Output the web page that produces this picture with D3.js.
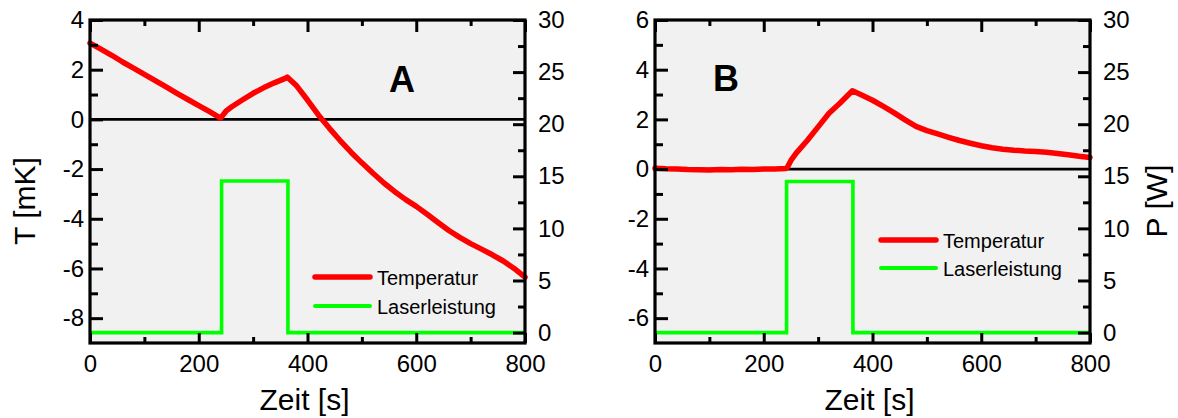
<!DOCTYPE html>
<html>
<head>
<meta charset="utf-8">
<script src="https://cdn.jsdelivr.net/npm/d3@7"></script>
<style>
  body { margin: 0; background: #fff; }
  svg { display: block; }
  text { font-family: "Liberation Sans", Arial, Helvetica, sans-serif; fill: #000; }
</style>
</head>
<body>
<svg id="chart" width="1178" height="418"></svg>
<script>
// Measurement A: temperature [mK] over time [s]
const timeA = [0, 20, 40, 60, 80, 100, 120, 140, 160, 180, 200, 220, 240, 250, 260, 280, 300, 320, 340, 360, 363,
               380, 400, 420, 440, 460, 480, 500, 520, 540, 560, 580, 600, 620, 640, 660, 680, 700, 720, 740, 760, 780, 800];
const tempA = [3.07, 2.83, 2.58, 2.31, 2.06, 1.81, 1.56, 1.31, 1.05, 0.80, 0.55, 0.31, 0.05, 0.33, 0.50, 0.78, 1.05, 1.28, 1.48, 1.66, 1.70,
               1.35, 0.78, 0.18, -0.35, -0.85, -1.32, -1.75, -2.16, -2.55, -2.90, -3.22, -3.50, -3.82, -4.15, -4.47, -4.75, -5.00, -5.22, -5.45, -5.70, -6.00, -6.35];

// Measurement B: temperature [mK] over time [s]
const timeB = [0, 20, 40, 60, 80, 100, 120, 140, 160, 180, 200, 220, 240, 243, 250, 260, 280, 300, 320, 340, 363,
               380, 400, 420, 440, 460, 480, 500, 520, 540, 560, 580, 600, 620, 640, 660, 680, 700, 720, 740, 760, 780, 800];
const tempB = [0.03, 0.01, 0.00, -0.02, -0.03, -0.04, -0.02, -0.03, -0.01, -0.02, 0.00, 0.00, 0.02, 0.05, 0.35, 0.65, 1.15, 1.70, 2.25, 2.65, 3.15,
               2.98, 2.77, 2.52, 2.26, 1.98, 1.72, 1.55, 1.42, 1.28, 1.15, 1.04, 0.94, 0.86, 0.80, 0.76, 0.73, 0.71, 0.68, 0.63, 0.58, 0.52, 0.47];

// Laser power [W]: switched on at ~242 s, off at ~364 s
const laserTime = [0, 242, 242, 364, 364, 800];
const laserA = [0, 0, 14.55, 14.55, 0, 0];
const laserB = [0, 0, 14.5, 14.5, 0, 0];

// Axis ticks
const timeTicks = [0, 200, 400, 600, 800];
const timeMinor = [100, 300, 500, 700];
const tempTicksA = [-8, -6, -4, -2, 0, 2, 4];
const tempMinorA = [-7, -5, -3, -1, 1, 3];
const tempTicksB = [-6, -4, -2, 0, 2, 4, 6];
const tempMinorB = [-5, -3, -1, 1, 3, 5];
const powerTicks = [0, 5, 10, 15, 20, 25, 30];
const powerMinor = [2.5, 7.5, 12.5, 17.5, 22.5, 27.5];

const legendLabels = ["Temperatur", "Laserleistung"];

const svg = d3.select("#chart");
const W = 435, H = 323, TOP = 20;
const RED = "#ff0000", GREEN = "#00ff00";
// plain hyphen for negative numbers
const fmt = d => String(d);

function drawPanel(cfg) {
  const g = svg.append("g").attr("transform", `translate(${cfg.left},${TOP})`);
  const x = d3.scaleLinear().domain([0, 800]).range([0, W]);
  const yT = d3.scaleLinear().domain(cfg.tempDomain).range([H, 0]);
  const yP = d3.scaleLinear().domain([-1, 30]).range([H, 0]);

  g.append("rect").attr("width", W).attr("height", H).attr("fill", "#f1f1f1");

  // zero line of the temperature axis
  g.append("line").attr("x1", 0).attr("x2", W)
    .attr("y1", yT(0)).attr("y2", yT(0))
    .attr("stroke", "#000").attr("stroke-width", 2.8);

  const laserLine = d3.line().x((d, i) => x(laserTime[i])).y(d => yP(d));
  g.append("path").datum(cfg.laser).attr("d", laserLine)
    .attr("fill", "none").attr("stroke", GREEN).attr("stroke-width", 3.6)
    .attr("stroke-linejoin", "miter");

  const tempLine = d3.line().x((d, i) => x(cfg.time[i])).y(d => yT(d));
  g.append("path").datum(cfg.temp).attr("d", tempLine)
    .attr("fill", "none").attr("stroke", RED).attr("stroke-width", 5.5)
    .attr("stroke-linejoin", "round").attr("stroke-linecap", "round");

  // axes: major ticks with labels, minor ticks without
  const styleAxis = sel => {
    sel.select(".domain").remove();
    sel.selectAll("line").attr("stroke", "#000").attr("stroke-width", 3);
    sel.selectAll("text").attr("font-size", 24).attr("fill", "#000");
  };
  g.append("g").attr("transform", `translate(0,${H})`)
    .call(d3.axisBottom(x).tickValues(timeTicks).tickSize(-10).tickPadding(12).tickFormat(fmt))
    .call(styleAxis);
  g.append("g").attr("transform", `translate(0,${H})`)
    .call(d3.axisBottom(x).tickValues(timeMinor).tickSize(-6).tickFormat(""))
    .call(styleAxis);
  g.append("g")
    .call(d3.axisTop(x).tickValues(timeTicks).tickSize(-12).tickFormat(""))
    .call(styleAxis);
  g.append("g")
    .call(d3.axisTop(x).tickValues(timeMinor).tickSize(-6).tickFormat(""))
    .call(styleAxis);
  g.append("g")
    .call(d3.axisLeft(yT).tickValues(cfg.tempTicks).tickSize(-13).tickPadding(6).tickFormat(fmt))
    .call(styleAxis);
  g.append("g")
    .call(d3.axisLeft(yT).tickValues(cfg.tempMinor).tickSize(-8).tickFormat(""))
    .call(styleAxis);
  g.append("g").attr("transform", `translate(${W},0)`)
    .call(d3.axisRight(yP).tickValues(powerTicks).tickSize(-12).tickPadding(13).tickFormat(fmt))
    .call(styleAxis);
  g.append("g").attr("transform", `translate(${W},0)`)
    .call(d3.axisRight(yP).tickValues(powerMinor).tickSize(-7).tickFormat(""))
    .call(styleAxis);

  // frame
  g.append("rect").attr("width", W).attr("height", H)
    .attr("fill", "none").attr("stroke", "#000").attr("stroke-width", 3.2);

  // panel letter
  g.append("text").attr("x", cfg.letterX).attr("y", cfg.letterY)
    .attr("text-anchor", "middle").attr("font-size", 36).attr("font-weight", "bold")
    .text(cfg.letter);

  // legend
  const lg = g.append("g").attr("transform", `translate(${cfg.legendX},${cfg.legendY})`);
  const colors = [RED, GREEN], widths = [5.5, 4];
  legendLabels.forEach((label, i) => {
    const yy = i * cfg.legendGap;
    lg.append("line").attr("x1", 0).attr("x2", 55).attr("y1", yy).attr("y2", yy)
      .attr("stroke", colors[i]).attr("stroke-width", widths[i]).attr("stroke-linecap", "round");
    lg.append("text").attr("x", 62).attr("y", yy + 8).attr("font-size", 20).text(label);
  });

  // x axis title
  svg.append("text").attr("x", cfg.left + W / 2 - 3).attr("y", 410)
    .attr("text-anchor", "middle").attr("font-size", 30).text("Zeit [s]");
}

drawPanel({
  left: 90, time: timeA, temp: tempA, laser: laserA,
  tempDomain: [-9, 4], tempTicks: tempTicksA, tempMinor: tempMinorA,
  letter: "A", letterX: 312, letterY: 72,
  legendX: 225, legendY: 257, legendGap: 29
});
drawPanel({
  left: 655, time: timeB, temp: tempB, laser: laserB,
  tempDomain: [-7, 6], tempTicks: tempTicksB, tempMinor: tempMinorB,
  letter: "B", letterX: 71, letterY: 71,
  legendX: 226, legendY: 220, legendGap: 28
});

// vertical axis titles
svg.append("text").attr("transform", "translate(35,201) rotate(-90)")
  .attr("text-anchor", "middle").attr("font-size", 30).text("T [mK]");
svg.append("text").attr("transform", "translate(1167,201) rotate(-90)")
  .attr("text-anchor", "middle").attr("font-size", 30).text("P [W]");
</script>
</body>
</html>
